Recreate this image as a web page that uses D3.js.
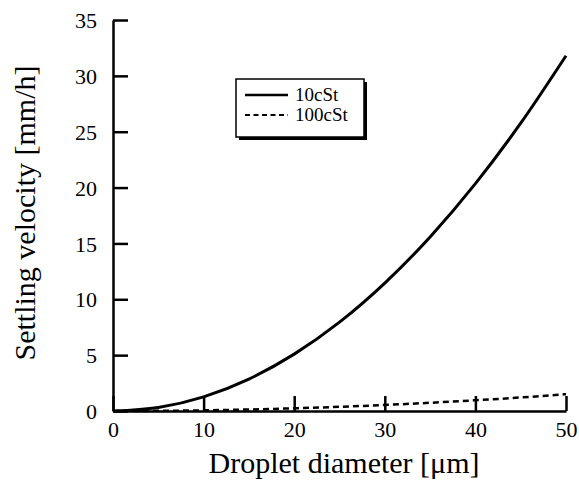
<!DOCTYPE html>
<html><head><meta charset="utf-8">
<script src="https://cdn.jsdelivr.net/npm/d3@7"></script>
<style>body{margin:0;background:#fff}svg{display:block}</style>
</head><body><svg id="c" width="579" height="482"></svg>
<script>
const diameters = [0,5,10,15,20,25,30,35,40,45,50];
const v10cSt  = [0,0.32,1.27,2.86,5.09,7.95,11.45,15.58,20.35,25.76,31.8];
const v100cSt = [0,0.015,0.06,0.135,0.24,0.375,0.54,0.735,0.96,1.21,1.5];
const xTicks = [0,10,20,30,40,50];
const yTicks = [0,5,10,15,20,25,30,35];
const seriesNames = ["10cSt","100cSt"];

const FONT = "'Liberation Serif','Times New Roman',serif";
const svg = d3.select("#c");
const x = d3.scaleLinear().domain([0,50]).range([113,566]);
const y = d3.scaleLinear().domain([0,35]).range([411,20]);

// axes
const xa = svg.append("g").attr("transform","translate(0,411)")
  .call(d3.axisBottom(x).tickValues(xTicks).tickSize(-15).tickPadding(26).tickSizeOuter(0));
const ya = svg.append("g").attr("transform","translate(113,0)")
  .call(d3.axisLeft(y).tickValues(yTicks).tickSize(-15).tickPadding(16).tickSizeOuter(0));
[xa,ya].forEach(a=>{
  a.attr("font-family",FONT).attr("font-size",22);
  a.select(".domain").attr("stroke","#000").attr("stroke-width",2.5);
  a.selectAll(".tick line").attr("stroke","#000").attr("stroke-width",2.5);
  a.selectAll(".tick text").attr("font-family",FONT).attr("font-size",22).attr("fill","#000");
});
xa.selectAll(".tick text").attr("dy","0");
ya.selectAll(".tick text").attr("dy","0.35em");

// curves
const line = d3.line().x((d,i)=>x(diameters[i])).y(d=>y(d)).curve(d3.curveMonotoneX);
svg.append("path").attr("d",line(v10cSt)).attr("fill","none").attr("stroke","#000").attr("stroke-width",3);
svg.append("path").attr("d",line(v100cSt)).attr("fill","none").attr("stroke","#000").attr("stroke-width",2.5).attr("stroke-dasharray","6,4");

// axis titles
svg.append("text").attr("x",344).attr("y",473).attr("text-anchor","middle")
  .attr("font-family",FONT).attr("font-size",30).text("Droplet diameter [μm]");
svg.append("text").attr("transform","translate(35,213) rotate(-90)").attr("text-anchor","middle")
  .attr("font-family",FONT).attr("font-size",30).text("Settling velocity [mm/h]");

// legend
const lg = svg.append("g");
lg.append("rect").attr("x",239).attr("y",82).attr("width",128).attr("height",58).attr("fill","#000");
lg.append("rect").attr("x",236).attr("y",79).attr("width",128).attr("height",58).attr("fill","#fff").attr("stroke","#000").attr("stroke-width",1.5);
seriesNames.forEach((n,i)=>{
  const yy = 95 + i*20;
  lg.append("line").attr("x1",245).attr("x2",288).attr("y1",yy).attr("y2",yy).attr("stroke","#000")
    .attr("stroke-width", i===0?2.5:2).attr("stroke-dasharray", i===0?null:"5,3.5");
  lg.append("text").attr("x",295).attr("y",yy+6).attr("font-family",FONT).attr("font-size",19).text(n);
});
</script></body></html>
